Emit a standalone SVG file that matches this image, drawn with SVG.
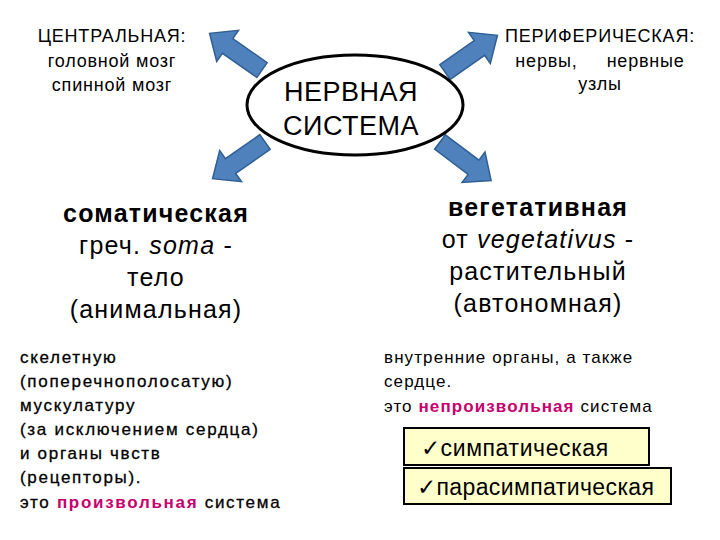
<svg xmlns="http://www.w3.org/2000/svg" width="720" height="540" viewBox="0 0 720 540">
<defs>
<style>
text{font-family:"Liberation Sans",Arial,sans-serif;fill:#000}
.h{font-size:18px;text-anchor:middle;letter-spacing:0.8px}
.m{font-size:25px;text-anchor:middle;letter-spacing:1.2px}
.s{font-size:17px;letter-spacing:1.7px;stroke:#000;stroke-width:0.3}
.v{font-size:17px;letter-spacing:1.1px}
.r{fill:#c8006e;font-weight:bold;stroke:none}
.arr{fill:#4f81bd;stroke:#2f5f95;stroke-width:1.5}
.box{fill:#ffffcc;stroke:#000;stroke-width:2}
</style>
<polygon id="ar" points="0,-9 42,-9 42,-19 64,0 42,19 42,9 0,9"/>
</defs>
<g id="connectors">
<use href="#ar" class="arr" transform="translate(262,70) rotate(-145)"/>
<use href="#ar" class="arr" transform="translate(445,72) rotate(-35)"/>
<use href="#ar" class="arr" transform="translate(265,142) rotate(145)"/>
<use href="#ar" class="arr" transform="translate(440,142) rotate(37)"/>
</g>
<g id="center">
<ellipse cx="355" cy="105" rx="108" ry="50" fill="#fff" stroke="#000" stroke-width="3"/>
<text x="351" y="101" style="font-size:27px;text-anchor:middle;letter-spacing:0.5px">НЕРВНАЯ</text>
<text x="351" y="135" style="font-size:27px;text-anchor:middle;letter-spacing:0.5px">СИСТЕМА</text>
</g>
<g id="central">
<text class="h" x="112" y="42">ЦЕНТРАЛЬНАЯ:</text>
<text class="h" x="112" y="67">головной мозг</text>
<text class="h" x="112" y="91">спинной мозг</text>
</g>
<g id="peripheral">
<text class="h" x="600" y="42">ПЕРИФЕРИЧЕСКАЯ:</text>
<text class="h" x="600" y="67" xml:space="preserve">нервы,     нервные</text>
<text class="h" x="600" y="90">узлы</text>
</g>
<g id="somatic">
<text class="m" x="156" y="222" font-weight="bold">соматическая</text>
<text class="m" x="156" y="254">греч. <tspan font-style="italic">soma</tspan> -</text>
<text class="m" x="156" y="286">тело</text>
<text class="m" x="156" y="318">(анимальная)</text>
</g>
<g id="vegetative">
<text class="m" x="538" y="216" font-weight="bold">вегетативная</text>
<text class="m" x="538" y="248">от <tspan font-style="italic">vegetativus</tspan> -</text>
<text class="m" x="538" y="280">растительный</text>
<text class="m" x="538" y="312">(автономная)</text>
</g>
<g id="somatic-desc">
<text class="s" x="20" y="363">скелетную</text>
<text class="s" x="20" y="387">(поперечнополосатую)</text>
<text class="s" x="20" y="411">мускулатуру</text>
<text class="s" x="20" y="435">(за исключением сердца)</text>
<text class="s" x="20" y="459">и органы чвств</text>
<text class="s" x="20" y="483">(рецепторы).</text>
<text class="s" x="20" y="508">это <tspan class="r">произвольная</tspan> система</text>
</g>
<g id="vegetative-desc">
<text class="v" x="384" y="363">внутренние органы, а также</text>
<text class="v" x="384" y="387">сердце.</text>
<text class="v" x="384" y="412">это <tspan class="r">непроизвольная</tspan> система</text>
</g>
<g id="sympathetic">
<rect class="box" x="404" y="428" width="245" height="37"/>
<text x="421" y="456" style="font-size:23px;letter-spacing:0.6px">✓симпатическая</text>
</g>
<g id="parasympathetic">
<rect class="box" x="404" y="468" width="267" height="36"/>
<text x="417" y="495" style="font-size:23px;letter-spacing:0.4px">✓парасимпатическая</text>
</g>
</svg>
